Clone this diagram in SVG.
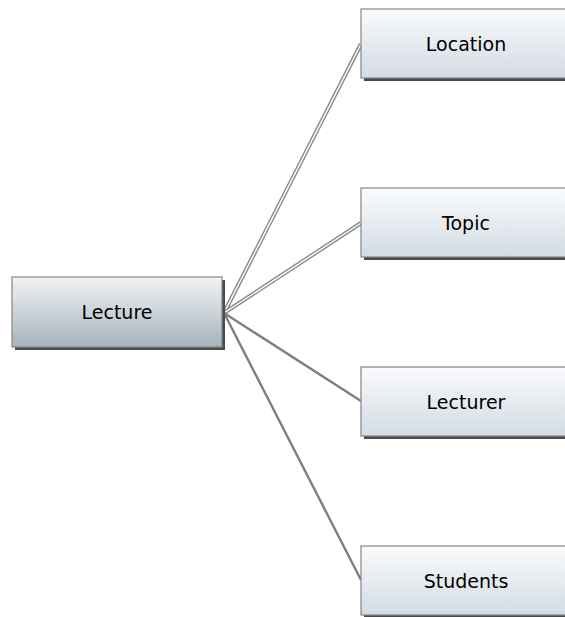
<svg xmlns="http://www.w3.org/2000/svg" width="565" height="617" viewBox="0 0 565 617">
  <style>
    .shadow { fill: #4a4a4a; }
    .box { stroke: #858585; stroke-width: 1.2; }
    .root { fill: url(#rootFill); }
    .leaf { fill: url(#leafFill); }
    .label { font-family: "DejaVu Sans", Verdana, sans-serif; font-size: 19px; fill: #000; text-anchor: middle; }
    .dbl-outer { stroke: #8a8a8a; stroke-width: 4.2; fill: none; }
    .dbl-inner { stroke: #ffffff; stroke-width: 1.4; fill: none; }
    .single { stroke: #7f7f7f; stroke-width: 2.4; fill: none; }
  </style>
  <defs>
    <linearGradient id="rootFill" x1="0" y1="0" x2="0" y2="1">
      <stop offset="0" stop-color="#f2f4f6"/>
      <stop offset="1" stop-color="#a5b3bc"/>
    </linearGradient>
    <linearGradient id="leafFill" x1="0" y1="0" x2="0" y2="1">
      <stop offset="0" stop-color="#fafbfc"/>
      <stop offset="1" stop-color="#d3dbe4"/>
    </linearGradient>
  </defs>
  <rect width="565" height="617" fill="#ffffff"/>

  <g id="connectors">
    <path class="dbl-outer" d="M224 313 L361 44"/>
    <path class="dbl-inner" d="M224 313 L361 44"/>
    <path class="dbl-outer" d="M224 313 L361 223"/>
    <path class="dbl-inner" d="M224 313 L361 223"/>
    <path class="single" d="M224 313 L361 401"/>
    <path class="single" d="M224 313 L361 580"/>
  </g>

  <g id="lecture">
    <rect class="shadow" x="15" y="280" width="210" height="70"/>
    <rect class="box root" x="12" y="277" width="210" height="70"/>
    <text class="label" x="117" y="318.5">Lecture</text>
  </g>

  <g id="location">
    <rect class="shadow" x="364" y="12" width="210" height="69"/>
    <rect class="box leaf" x="361" y="9" width="210" height="69"/>
    <text class="label" x="466" y="50.5">Location</text>
  </g>

  <g id="topic">
    <rect class="shadow" x="364" y="191" width="210" height="69"/>
    <rect class="box leaf" x="361" y="188" width="210" height="69"/>
    <text class="label" x="466" y="229.5">Topic</text>
  </g>

  <g id="lecturer">
    <rect class="shadow" x="364" y="370" width="210" height="69"/>
    <rect class="box leaf" x="361" y="367" width="210" height="69"/>
    <text class="label" x="466" y="408.5">Lecturer</text>
  </g>

  <g id="students">
    <rect class="shadow" x="364" y="549" width="210" height="69"/>
    <rect class="box leaf" x="361" y="546" width="210" height="69"/>
    <text class="label" x="466" y="587.5">Students</text>
  </g>
</svg>
